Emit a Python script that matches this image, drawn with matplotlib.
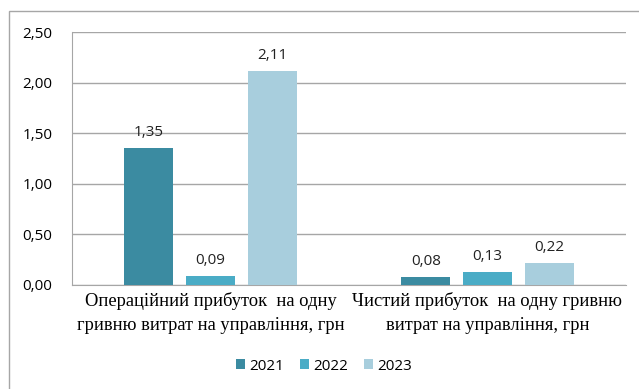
import matplotlib.pyplot as plt
import numpy as np
from matplotlib.patches import Rectangle

# дані
categories = ['Операційний прибуток  на одну\nгривню витрат на управління, грн',
              'Чистий прибуток  на одну гривню\nвитрат на управління, грн']
years = ['2021', '2022', '2023']
v2021 = [1.35, 0.08]
v2022 = [0.09, 0.13]
v2023 = [2.11, 0.22]
colors = ['#3B8BA1', '#4AACC6', '#A8CEDD']

W, H = 639, 389
fig = plt.figure(figsize=(W / 100, H / 100), dpi=100)
ax = fig.add_axes([72 / W, 1 - 285 / H, (626 - 72) / W, (285 - 32) / H])

x = np.arange(len(categories))
width = 0.176
step = 0.223
series = [v2021, v2022, v2023]
for i, (vals, yr) in enumerate(zip(series, years)):
    bars = ax.bar(x + (i - 1) * step, vals, width, color=colors[i], label=yr, zorder=3)
    for b, v in zip(bars, vals):
        ax.text(b.get_x() + b.get_width() / 2, v + 0.08, f'{v:.2f}'.replace('.', ','),
                ha='center', va='bottom', fontsize=11, family='Open Sans', color='#222222')

ax.set_xlim(-0.5, 1.5)
ax.set_ylim(0, 2.5)
yt = np.arange(0, 2.51, 0.5)
ax.set_yticks(yt)
ax.set_yticklabels([f'{t:.2f}'.replace('.', ',') for t in yt], family='Open Sans', fontsize=11)
ax.yaxis.grid(True, color='#A6A6A6', linewidth=1, zorder=0)
ax.tick_params(axis='y', length=0, pad=14)
ax.tick_params(axis='x', length=0, pad=5)
ax.set_xticks(x)
ax.set_xticklabels(categories, family='Liberation Serif', fontsize=13.3, linespacing=1.55)
for s in ['top', 'right']:
    ax.spines[s].set_visible(False)
ax.spines['left'].set_color('#A6A6A6')
ax.spines['bottom'].set_color('#A6A6A6')

leg = fig.legend(loc='center', bbox_to_anchor=(324 / W, 1 - 366 / H), ncol=3, frameon=False,
                 prop={'family': 'Open Sans', 'size': 11}, handlelength=0.6, handleheight=0.6,
                 handletextpad=0.3, columnspacing=1.0)

# рамка
fig.patches.append(Rectangle((9 / W, -0.1), 1.2, 1 - 11 / H + 0.1, transform=fig.transFigure,
                             fill=False, edgecolor='#A6A6A6', linewidth=1))

fig.savefig('out.png', dpi=100)
